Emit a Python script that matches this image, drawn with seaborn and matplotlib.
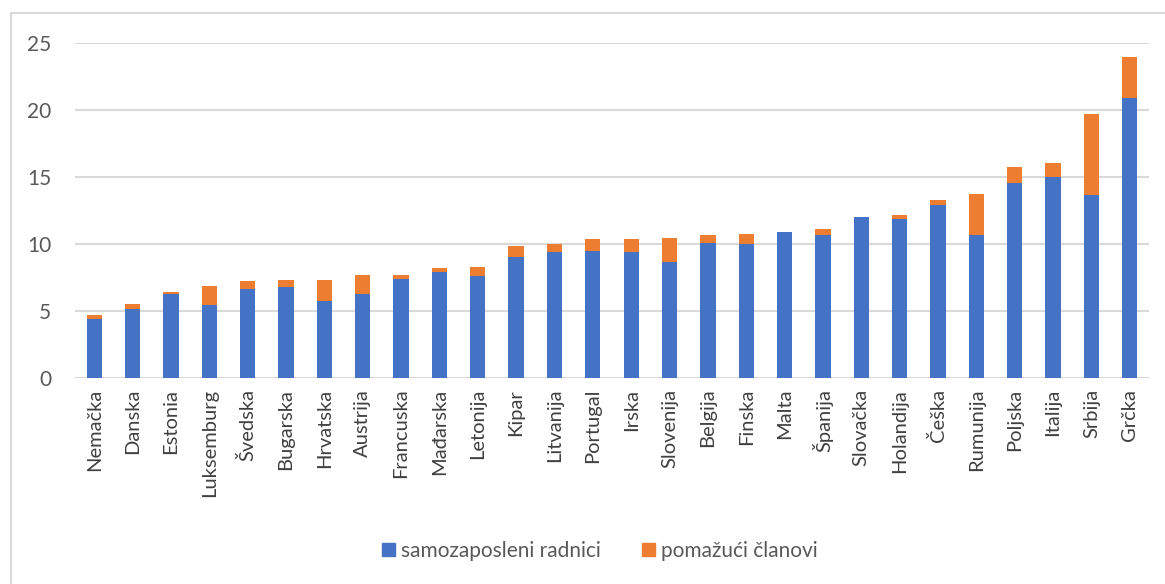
import pandas as pd
import seaborn as sns
import matplotlib.pyplot as plt
from matplotlib.lines import Line2D
from matplotlib.patches import Patch

countries = ['Nemačka', 'Danska', 'Estonia', 'Luksemburg', 'Švedska', 'Bugarska', 'Hrvatska',
             'Austrija', 'Francuska', 'Mađarska', 'Letonija', 'Kipar', 'Litvanija', 'Portugal',
             'Irska', 'Slovenija', 'Belgija', 'Finska', 'Malta', 'Španija', 'Slovačka',
             'Holandija', 'Češka', 'Rumunija', 'Poljska', 'Italija', 'Srbija', 'Grčka']
self_employed = [4.36, 5.10, 6.25, 5.40, 6.62, 6.75, 5.75, 6.25, 7.39, 7.87, 7.59, 9.01, 9.40, 9.50,
                 9.40, 8.63, 10.05, 9.95, 10.85, 10.65, 11.99, 11.82, 12.87, 10.65, 14.51, 14.96,
                 13.63, 20.90]
helping = [0.34, 0.38, 0.17, 1.42, 0.57, 0.52, 1.52, 1.39, 0.25, 0.29, 0.65, 0.84, 0.55, 0.85,
           0.95, 1.82, 0.60, 0.77, 0.0, 0.47, 0.0, 0.37, 0.37, 3.06, 1.21, 1.04, 6.03, 3.03]

blue = '#4472C4'
orange = '#ED7D31'
grid_c = '#D9D9D9'
text_c = '#595959'

df = pd.DataFrame({'country': countries, 'self': self_employed, 'help': helping})
df['total'] = df['self'] + df['help']

sns.set_style('white')
plt.rcParams['font.family'] = ['Lato', 'DejaVu Sans']

fig = plt.figure(figsize=(11.65, 5.84), dpi=100)
ax = fig.add_axes([75 / 1165, 1 - 377.7 / 584, (1149 - 75) / 1165, (377.7 - 43) / 584])

sns.barplot(data=df, x='country', y='total', color=orange, width=0.4, saturation=1, ax=ax,
            edgecolor='none')
sns.barplot(data=df, x='country', y='self', color=blue, width=0.4, saturation=1, ax=ax,
            edgecolor='none')

ax.set_ylim(0, 25)
ax.set_xlim(-0.5, len(countries) - 0.5)
ax.set_yticks([0, 5, 10, 15, 20, 25])
ax.yaxis.grid(True, color=grid_c, linewidth=1.5)
ax.set_axisbelow(True)
for s in ax.spines.values():
    s.set_visible(False)
ax.set_xlabel('')
ax.set_ylabel('')
ax.tick_params(axis='both', length=0, colors=text_c)
ax.tick_params(axis='y', labelsize=15, pad=17)
ax.tick_params(axis='x', labelsize=14.5, pad=8)
plt.setp(ax.get_xticklabels(), rotation=90, color='#404040')
plt.setp(ax.get_yticklabels(), color=text_c)

handles = [Patch(color=blue, label='samozaposleni radnici'),
           Patch(color=orange, label='pomažući članovi')]
fig.legend(handles=handles, loc='center', bbox_to_anchor=(600 / 1165, 1 - 551 / 584), ncol=2,
           frameon=False, fontsize=15, handlelength=0.6, handleheight=0.6, handletextpad=0.3,
           columnspacing=2.0, labelcolor=text_c)

# outer chart frame
fig.add_artist(Line2D([11 / 1165, 11 / 1165, 1.0], [0.0, 1 - 13 / 584, 1 - 13 / 584],
                      transform=fig.transFigure, color=grid_c, linewidth=1.5))

fig.savefig('out.png', dpi=100)
